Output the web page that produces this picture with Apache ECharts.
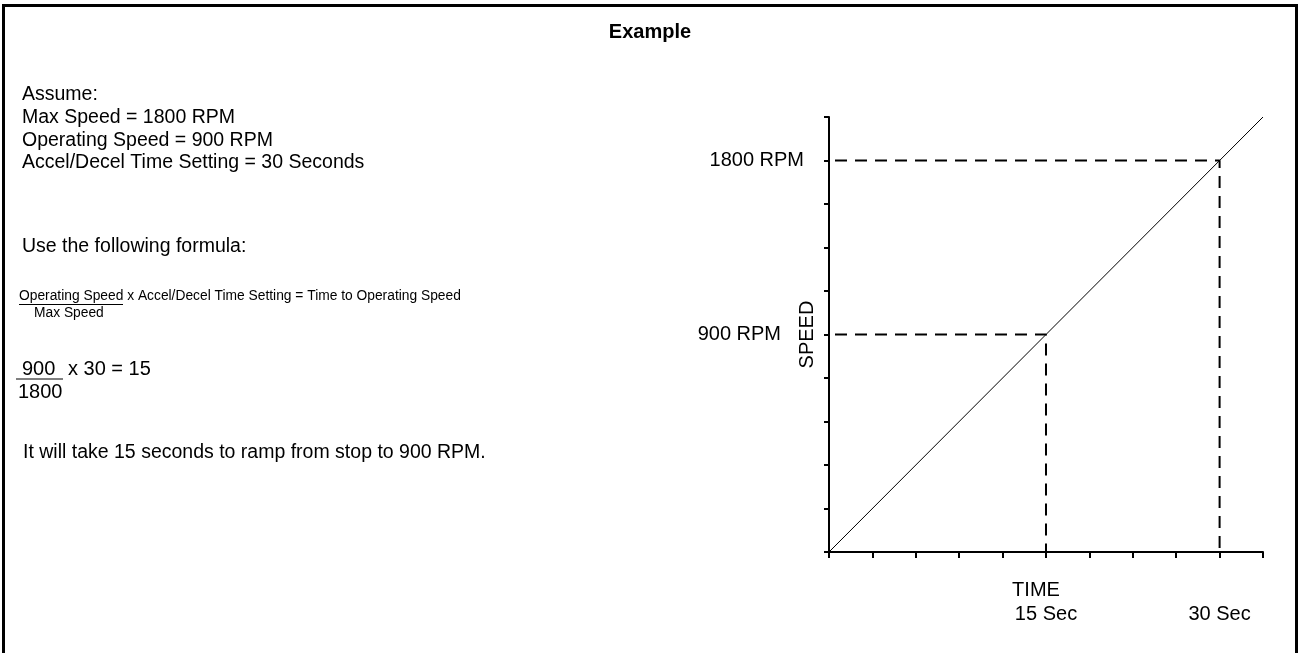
<!DOCTYPE html>
<html>
<head>
<meta charset="utf-8">
<script src="https://cdn.jsdelivr.net/npm/echarts@6/dist/echarts.min.js"></script>
<style>
  html, body { margin: 0; padding: 0; background: #fff; }
  #chart { width: 1300px; height: 653px; }
</style>
</head>
<body>
<div id="chart"></div>
<script>
// ramp line, in tick units on both axes
const rampTime = [0, 10]
const rampSpeed = [0, 10]
// marked points (tick index) and their labels
const markTicks = [5, 9]
const speedLabels = ['900 RPM', '1800 RPM']
const timeLabels = ['15 Sec', '30 Sec']
const axisMax = 10

// text on the left side
const assumeLines = [
  'Assume:',
  'Max Speed = 1800 RPM',
  'Operating Speed = 900 RPM',
  'Accel/Decel Time Setting = 30 Seconds'
]

const FONT = '"Liberation Sans", Arial, sans-serif'

function guide(t) {
  return {
    type: 'line',
    data: [[0, t], [t, t], [t, 0]],
    showSymbol: false,
    silent: true,
    lineStyle: { color: '#000', width: 2, type: [12, 8], dashOffset: 14 }
  }
}

function txt(text, x, y, size, extra) {
  return {
    type: 'text',
    silent: true,
    style: Object.assign({
      text, x, y,
      fill: '#000',
      font: size + 'px ' + FONT,
      align: 'left',
      verticalAlign: 'middle'
    }, extra || {})
  }
}

function uline(x1, x2, y) {
  return {
    type: 'line',
    silent: true,
    shape: { x1, y1: y, x2, y2: y },
    style: { stroke: '#000', lineWidth: 1 }
  }
}

const chart = echarts.init(document.getElementById('chart'))

const graphics = [
  {
    type: 'rect',
    silent: true,
    shape: { x: 3.5, y: 5.5, width: 1293, height: 700 },
    style: { fill: 'none', stroke: '#000', lineWidth: 3 }
  }
]
assumeLines.forEach((s, i) => graphics.push(txt(s, 22, 95 + i * 22.7, 19.5)))
graphics.push(txt('Use the following formula:', 22, 247, 19.5))
graphics.push(txt('Operating Speed x Accel/Decel Time Setting = Time to Operating Speed', 19, 296, 13.8))
graphics.push(uline(19, 123, 304.5))
graphics.push(txt('Max Speed', 34, 313, 13.8))
graphics.push(txt('900', 22, 369, 20))
graphics.push(uline(16, 63, 379))
graphics.push(txt('x 30 = 15', 68, 369, 20))
graphics.push(txt('1800', 18, 392, 20))
graphics.push(txt('It will take 15 seconds to ramp from stop to 900 RPM.', 23, 453, 19.5))

chart.setOption({
  animation: false,
  title: {
    text: 'Example',
    left: 'center',
    top: 17,
    textStyle: { fontFamily: FONT, fontSize: 20, fontWeight: 'bold', color: '#000' }
  },
  grid: { left: 829, right: 37, top: 117, bottom: 101 },
  xAxis: {
    type: 'value',
    min: 0,
    max: axisMax,
    interval: 1,
    name: 'TIME',
    nameLocation: 'middle',
    nameGap: 28,
    nameMoveOverlap: false,
    nameTextStyle: { fontFamily: FONT, fontSize: 20, color: '#000', padding: [0, 20, 0, 0] },
    axisLine: { lineStyle: { color: '#000', width: 2 } },
    axisTick: { inside: false, length: 6, lineStyle: { color: '#000', width: 2 } },
    splitLine: { show: false },
    axisLabel: {
      margin: 52,
      fontFamily: FONT,
      fontSize: 20,
      color: '#000',
      showMinLabel: true,
      showMaxLabel: true,
      formatter: (v) => {
        const i = markTicks.indexOf(v)
        return i >= 0 ? timeLabels[i] : ''
      }
    }
  },
  yAxis: {
    type: 'value',
    min: 0,
    max: axisMax,
    interval: 1,
    name: 'SPEED',
    nameLocation: 'middle',
    nameRotate: 90,
    nameGap: 12,
    nameMoveOverlap: false,
    nameTextStyle: { fontFamily: FONT, fontSize: 20, color: '#000' },
    axisLine: { lineStyle: { color: '#000', width: 2 } },
    axisTick: { inside: false, length: 5, lineStyle: { color: '#000', width: 2 } },
    splitLine: { show: false },
    axisLabel: {
      margin: 25,
      color: '#000',
      formatter: (v) => {
        const i = markTicks.indexOf(v)
        if (i < 0) return ''
        return i === 0 ? '{far|' + speedLabels[i] + '}' : '{near|' + speedLabels[i] + '}'
      },
      rich: {
        near: { fontFamily: FONT, fontSize: 20, color: '#000' },
        far: { fontFamily: FONT, fontSize: 20, color: '#000', padding: [0, 23, 0, 0] }
      }
    }
  },
  series: [
    {
      type: 'line',
      data: rampTime.map((t, i) => [t, rampSpeed[i]]),
      showSymbol: false,
      silent: true,
      lineStyle: { color: '#000', width: 1 }
    },
    guide(markTicks[0]),
    guide(markTicks[1])
  ],
  graphic: graphics
})
</script>
</body>
</html>
